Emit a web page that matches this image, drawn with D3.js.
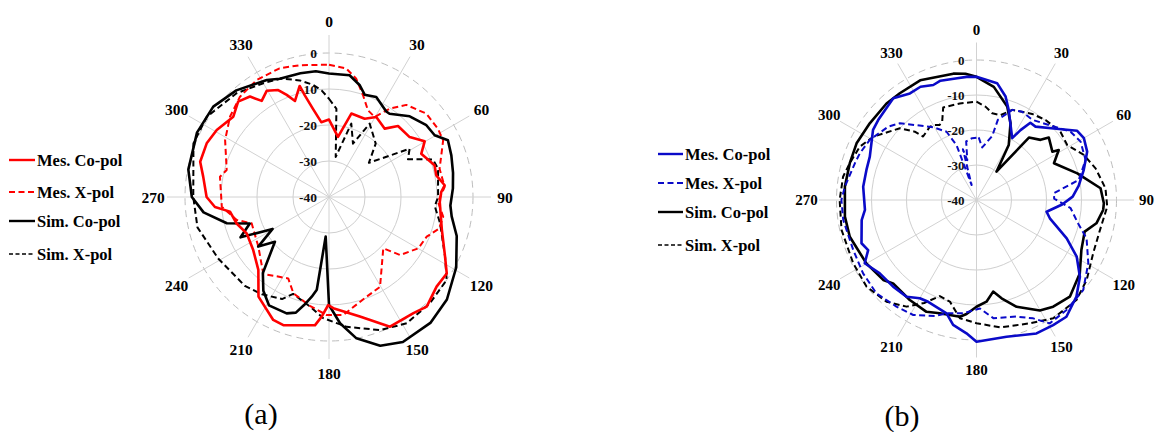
<!DOCTYPE html>
<html><head><meta charset="utf-8">
<script src="https://cdn.jsdelivr.net/npm/d3@7/dist/d3.min.js"></script>
<style>body{margin:0;background:#fff}svg{display:block}</style>
</head><body>
<svg id="c" width="1159" height="432"></svg>
<script>
// ---------- data ----------
const angleTicks = [0,30,60,90,120,150,180,210,240,270,300,330];
const radialTicks = [-40,-30,-20,-10,0];
const radialDomain = [-40, 5];
const seriesNames = ["Mes. Co-pol","Mes. X-pol","Sim. Co-pol","Sim. X-pol"];
const captions = ["(a)","(b)"];

// panel (a): [angle deg, gain dB]
const aMesCo = [[0,-18.5],[8.5,-23.1],[15,-16],[24.5,-16.1],[30.6,-14.2],[39.2,-15.5],[44.2,-12.5],[53.4,-12.1],[59.8,-9.25],[64.9,-11.7],[73.3,-9.4],[78.6,-9.6],[84.2,-7.7],[87.5,-8.8],[92.6,-9.2],[106,-7.4],[116.6,-4],[123,-1],[129.8,-1.1],[138.3,0.8],[144,-0.1],[154.8,-0.2],[165.5,-5.7],[177.8,-9.1],[180.4,-10],[183.5,-6.7],[186.2,-4.2],[199.6,-2.2],[204.4,-2.5],[215.3,-6.1],[224.1,-11.8],[235,-14.3],[246.2,-15],[254,-13.3],[261.6,-12.2],[265,-8.2],[270,-6],[279.2,-4.6],[285.3,-2.9],[293.7,-2.9],[300.8,-3.7],[310,-5.3],[316.4,-3.4],[321.8,-4.5],[325,-7.4],[329.6,-5.8],[334.6,-7.1],[337.5,-9.3],[340.5,-11.7],[345.2,-8.1],[346.6,-11],[349.7,-15.1],[354.1,-19.1]];
const aMesX = [[0,-3.25],[7.7,-4],[13,-6.3],[18.5,-10.2],[24.2,-13.6],[29.7,-14.4],[34.5,-10.2],[40,-6.6],[49.4,-4.4],[58,-4.3],[63.6,-4.6],[75.7,-8.3],[85,-7.75],[92.6,-9.7],[99.8,-7.8],[106,-8.2],[112.1,-10.7],[119.9,-11.4],[129.2,-14.5],[133.4,-19.25],[150.4,-11.3],[159.3,-10.4],[173.1,-7],[181.1,-7.2],[190,-9.3],[200.3,-11.5],[206.6,-14.7],[220.5,-11.9],[234.8,-16],[251.2,-17.3],[256,-13.6],[264.8,-10.1],[280.5,-9.2],[284.8,-10.6],[298.7,-7.1],[309,-4.6],[318.4,-2.75],[328.3,-1.8],[339,-1.7],[347.5,-2.5]];
const aSimCo = [[0,-5.7],[9.6,-5.7],[15.4,-7.8],[19.2,-9.9],[25.3,-9.3],[33.8,-11.4],[36,-11.4],[45,-8.3],[53.6,-6.4],[59.7,-6],[64.5,-3.4],[71.2,-4.1],[79,-4.9],[86,-5.5],[94,-6.2],[99,-5.5],[107,-2.9],[119,0.4],[131,3.4],[141,4.9],[153,5.2],[161,3.7],[169,0],[175,-4.8],[180,-10],[184.8,-29],[187.5,-14],[189.8,-11.9],[193,-9.2],[196,-6.6],[200,-5.6],[209,-5.6],[215,-8.2],[221,-12],[230.4,-20.5],[235,-16],[240.5,-22],[245.5,-13],[251.5,-16.8],[255.6,-10.7],[263,-4.9],[270,-1.9],[281,-0.2],[296,0.8],[308,0.8],[319,-0.75],[332,-3.2],[337.4,-4.4],[347,-4.7],[354,-4.9]];
const aSimX = [[0,-12.7],[4.8,-15.4],[9.5,-28.7],[16.9,-18.7],[24.2,-23.75],[29,-16.7],[41.2,-20.3],[49.4,-25.4],[59.1,-13.9],[64.5,-15.7],[70.1,-9.3],[75.4,-8.7],[90,-9.7],[95,-10.5],[103.3,-8.3],[117.2,-3.75],[125.2,0],[136.5,0.7],[148.4,1.2],[159,-0.4],[172.2,-3.6],[182.7,-6.3],[189.8,-9.1],[200.3,-11.3],[204.7,-8.8],[214.5,-7.2],[223.4,-6],[241,-4.8],[257,-2.5],[270,-2.3],[291.6,0.5],[303.3,0.6],[318.3,-1.4],[330,-3.5],[338,-4.5],[345.9,-6.6],[351.8,-8.5],[356,-10.3]];

// panel (b)
const bMesCo = [[0,-4.8],[10,-6.1],[15.7,-9.3],[19.7,-12.7],[30,-19.6],[32.2,-16.4],[34.9,-13.1],[38.8,-13.1],[47.2,-9.9],[55.5,-5.1],[60.1,-4.6],[66.4,-5.5],[74.4,-8.2],[82,-10.5],[88,-12.5],[93,-15.5],[99.5,-19.7],[104,-18.4],[113,-12],[119.5,-7.1],[126.6,-3.2],[134,-0.3],[142.4,2.1],[148.5,1.9],[155.8,1.8],[167.6,0],[180,0.5],[184.3,-1.8],[190.6,-3.7],[194.8,-6.5],[205.4,-7.8],[210,-7.6],[215.9,-5.9],[223.9,-5.65],[232.8,-5.3],[240.5,-3.3],[245.2,-5.9],[249.4,-4.9],[260.1,-6.7],[264.9,-8],[276.7,-7.4],[285.3,-7.4],[292.1,-7.1],[304.1,-4.3],[309.1,-3.8],[320.7,-2.45],[328,-4.1],[333.7,-3.9],[339.4,-4.9],[343.2,-4.4],[351,-4.8],[355.4,-4.7]];
const bMesX = [[2,-22.1],[6.2,-24.9],[13.8,-21.2],[14.9,-16.3],[21.6,-12.3],[27.4,-11.6],[34.8,-12.1],[44,-10.2],[54,-6.8],[60.7,-5.9],[69.8,-6.8],[78.9,-10.2],[85,-17.8],[89,-17.8],[95,-13],[103,-10.2],[109.2,-6.7],[119.5,-3.3],[130.2,-0.1],[140.7,0.6],[149.3,1],[154.4,-2.5],[161.1,-4.8],[171.9,-5.9],[178.2,-9],[186.7,-7.4],[194.8,-6.5],[199.8,-4.8],[208.8,-2.5],[216.9,-1.9],[227,-0.9],[237.1,-1.4],[247.9,-2],[261.5,-1.5],[270,-1.4],[275.8,-2.2],[286.8,-3.7],[291.8,-4.1],[299.4,-5],[309.7,-7.2],[315,-9],[321.3,-12.6],[329.2,-15.8],[336.3,-18.7],[340,-23.3],[342,-35.5],[345,-25],[347,-28.3],[350,-23],[356,-22.3]];
const bSimCo = [[0,-4.8],[8.7,-7.3],[18.2,-11.9],[23.9,-16],[30.4,-21.8],[35.2,-30.1],[40,-16.7],[46.8,-14.9],[49.2,-12.7],[57.5,-14.3],[58.7,-12.5],[64.6,-15.5],[75.2,-10.2],[84.6,-4.4],[91.5,-3.6],[94.5,-3.7],[101,-5.1],[106.3,-7.8],[115.5,-6.8],[125.4,-3.8],[136,-1.6],[144.3,-2.45],[150.2,-3.6],[159.4,-7.4],[165.7,-11],[169.7,-13.4],[174.4,-10.8],[180,-9.5],[185,-7.3],[188.1,-6.3],[198,-6],[204.1,-5],[213.7,-5.65],[225,-6.3],[229.4,-4.9],[240.1,-3.7],[253.8,-2.3],[262.8,-2.1],[275.8,-2.2],[286.2,-2.3],[295.3,-2.1],[305.7,-2.45],[317,-2.3],[324.3,-2.45],[334.8,-2.2],[349.6,-3.3],[355,-3.8]];
const bSimX = [[0,-11.9],[5.5,-13.2],[10.3,-14.8],[15.8,-14.8],[21.6,-12.3],[32.9,-10.7],[40.8,-9.8],[50.9,-9.1],[58.8,-9.7],[67.2,-6.75],[75.1,-4.8],[84.8,-3],[92.9,-2.6],[103.7,-3.7],[114.6,-3.35],[126,-1.1],[135,0.4],[147,0.3],[156.6,-1.6],[169.6,-3],[180,-4.8],[188,-5.9],[194.7,-10],[200.9,-10.6],[206.9,-7],[213.3,-3.55],[221.5,-1.2],[231.8,0],[242.8,-0.4],[257.5,-0.5],[270,-0.9],[279.9,-1.3],[286.2,-2.3],[294.6,-3.35],[301.5,-5.4],[313.1,-10],[317.9,-13.7],[319.9,-16.3],[327.5,-15.2],[330.4,-15.35],[333.9,-16.1],[336.3,-15.6],[340.2,-11.9],[350.2,-12]];

// ---------- drawing ----------
const svg = d3.select("#c");
const serif = "'Liberation Serif','Times New Roman',serif";

const panels = [
  {cx:329, cy:197, rMax:162, labelR:176, fA:15.5, fR:13.5, meas:"#ff0000",
   data:[aMesCo,aMesX,aSimCo,aSimX],
   leg:{x1:9, x2:35, tx:37, ys:[160,192,221,254], fs:16.5},
   cap:{x:261, y:413}},
  {cx:976.5, cy:200, rMax:157.5, labelR:170, fA:15, fR:13, meas:"#0a0ac8",
   data:[bMesCo,bMesX,bSimCo,bSimX],
   leg:{x1:658, x2:683, tx:685, ys:[154,183,212,245], fs:16.5},
   cap:{x:902, y:415}}
];

panels.forEach((p, pi) => {
  const g = svg.append("g").attr("transform", `translate(${p.cx},${p.cy})`);
  const r = d3.scaleLinear().domain(radialDomain).range([0, p.rMax]);
  const a = d3.scaleLinear().domain([0, 360]).range([0, 2*Math.PI]);

  // rings
  radialTicks.filter(v => v > -40).forEach(v => {
    g.append("circle").attr("r", r(v)).attr("fill","none")
      .attr("stroke", v === 0 ? "#bdbdbd" : "#cfcfcf").attr("stroke-width", 1)
      .attr("stroke-dasharray", v === 0 ? "7,5" : null);
  });
  // spokes
  angleTicks.forEach(t => {
    const th = a(t);
    g.append("line").attr("x1",0).attr("y1",0)
      .attr("x2", Math.sin(th)*p.rMax).attr("y2", -Math.cos(th)*p.rMax)
      .attr("stroke","#d2d2d2").attr("stroke-width",1);
    g.append("text").attr("x", Math.sin(th)*p.labelR).attr("y", -Math.cos(th)*p.labelR)
      .attr("text-anchor","middle").attr("dominant-baseline","central")
      .attr("font-family", serif).attr("font-weight","bold").attr("font-size", p.fA)
      .text(t);
  });
  // radial labels
  radialTicks.forEach(v => {
    g.append("text").attr("x", -12).attr("y", -r(v))
      .attr("text-anchor","end").attr("dominant-baseline","central")
      .attr("font-family", serif).attr("font-weight","bold").attr("font-size", p.fR)
      .attr("fill","#111")
      .text(v);
  });

  const styles = [
    {c:p.meas, dash:"6,3.5", w:2},
    {c:p.meas, dash:"6,3.5", w:2},
    {c:"#000", dash:null, w:2.6},
    {c:"#000", dash:"6,3.5", w:2}
  ];
  styles[0].dash = null; styles[0].w = 2.6;

  const line = d3.lineRadial()
    .angle(d => a(d[0])).radius(d => r(d[1]))
    .curve(d3.curveLinearClosed);

  // draw order: sim X, mes X, sim Co, mes Co
  const order = pi === 0 ? [3,1,2,0] : [3,2,1,0];
  order.forEach(i => {
    g.append("path").datum(p.data[i]).attr("d", line)
      .attr("fill","none").attr("stroke", styles[i].c).attr("stroke-width", styles[i].w)
      .attr("stroke-dasharray", styles[i].dash).attr("stroke-linejoin","round");
  });

  // legend
  const legDash = [null, "6,3.5", null, "4,2.5"];
  const legW = [2.4, 2.2, 2.4, 1.6];
  seriesNames.forEach((name, i) => {
    const y = p.leg.ys[i];
    svg.append("line").attr("x1", p.leg.x1).attr("x2", p.leg.x2).attr("y1", y).attr("y2", y)
      .attr("stroke", styles[i].c).attr("stroke-width", legW[i]).attr("stroke-dasharray", legDash[i]);
    svg.append("text").attr("x", p.leg.tx).attr("y", y).attr("dominant-baseline","central")
      .attr("font-family", serif).attr("font-weight","bold").attr("font-size", p.leg.fs)
      .text(name);
  });

  // caption
  svg.append("text").attr("x", p.cap.x).attr("y", p.cap.y)
    .attr("text-anchor","middle").attr("dominant-baseline","central")
    .attr("font-family", serif).attr("font-size", 30)
    .text(captions[pi]);
});
</script>
</body></html>
